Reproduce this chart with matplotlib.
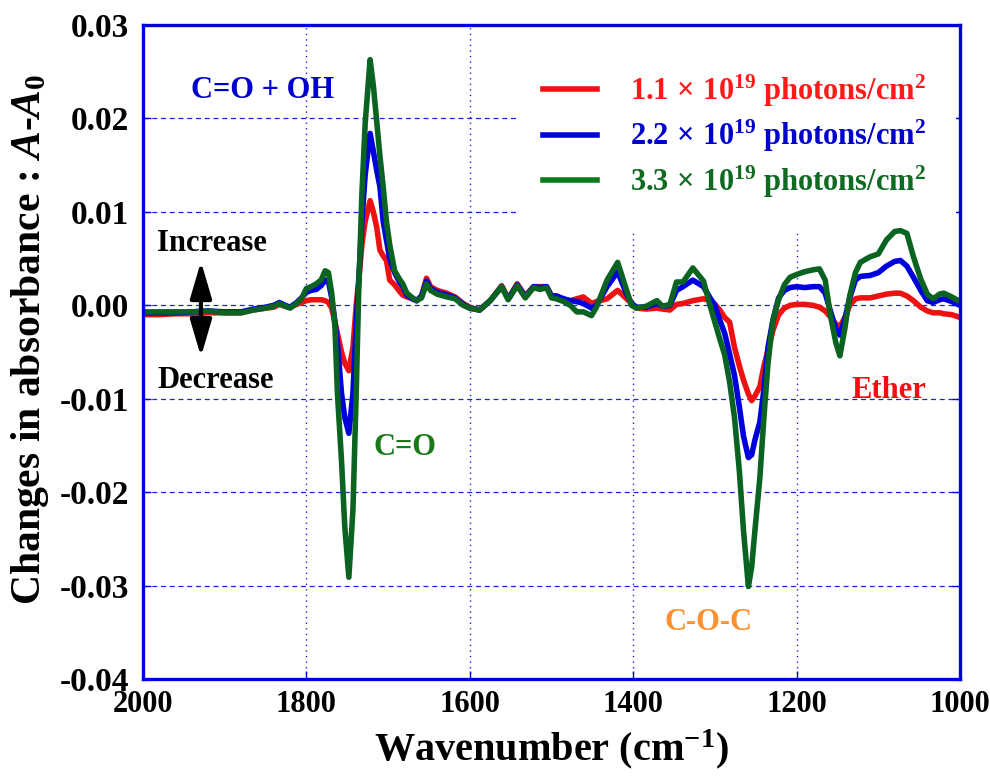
import numpy as np
import matplotlib
matplotlib.use('Agg')
import matplotlib.pyplot as plt
from matplotlib.patches import Rectangle

plt.rcParams['font.family'] = ['Liberation Serif', 'DejaVu Serif']
plt.rcParams['font.weight'] = 'bold'
plt.rcParams['axes.labelweight'] = 'bold'
plt.rcParams['axes.unicode_minus'] = False
plt.rcParams['mathtext.fontset'] = 'custom'
plt.rcParams['mathtext.rm'] = 'Liberation Serif:bold'
plt.rcParams['mathtext.bf'] = 'Liberation Serif:bold'
plt.rcParams['mathtext.it'] = 'Liberation Serif:bold:italic'

# wavenumber (cm-1), values in units of 1e-3 absorbance
wavenumber = [2000, 1980, 1960, 1940, 1920, 1900, 1880, 1865, 1850, 1840, 1833, 1826,
              1820, 1812, 1806, 1800, 1794, 1788, 1782, 1777, 1773, 1769, 1765, 1762,
              1757, 1753, 1748, 1743, 1739, 1736, 1732, 1728, 1722, 1718, 1714, 1710,
              1706, 1702, 1698, 1692, 1686, 1682, 1677, 1670, 1665, 1659, 1653, 1648,
              1640, 1628, 1618, 1608, 1600, 1588, 1575, 1561, 1553, 1542, 1532, 1522,
              1514, 1506, 1500, 1494, 1485, 1477, 1469, 1461, 1451, 1445, 1432, 1419,
              1408, 1402, 1396, 1384, 1371, 1364, 1355, 1347, 1339, 1327, 1314, 1306,
              1300, 1294, 1288, 1282, 1276, 1270, 1265, 1259, 1255, 1251, 1245, 1240,
              1235, 1229, 1222, 1215, 1208, 1200, 1190, 1180, 1172, 1165, 1159, 1152,
              1147, 1141, 1135, 1128, 1122, 1110, 1100, 1090, 1080, 1073, 1065, 1057,
              1048, 1040, 1033, 1025, 1020, 1010, 1000]

dose_11 = [-1.0, -1.0, -0.9, -0.9, -0.8, -0.8, -0.8, -0.5, -0.3, -0.2, 0.1, -0.1,
           -0.2, 0.1, 0.3, 0.5, 0.6, 0.6, 0.6, 0.5, 0.3, -0.3, -1.8, -3.0,
           -5.0, -6.2, -7.0, -4.5, 0.0, 2.5, 6.5, 9.0, 11.2, 10.0, 8.4, 5.9,
           5.3, 4.8, 2.7, 2.2, 1.5, 1.1, 0.9, 0.7, 0.5, 1.0, 2.9, 2.0,
           1.6, 1.3, 0.9, 0.2, -0.2, -0.5, 0.5, 2.1, 0.7, 2.3, 1.0, 2.0,
           2.0, 2.0, 1.0, 1.0, 0.6, 0.5, 0.7, 0.9, 0.2, 0.4, 0.7, 1.6,
           0.7, 0.2, -0.3, -0.4, -0.3, -0.4, -0.5, 0.1, 0.2, 0.5, 0.7, 0.5,
           0.1, -0.5, -1.3, -1.8, -4.5, -6.5, -8.0, -9.5, -10.2, -9.7, -8.7, -6.5,
           -4.8, -2.7, -1.0, -0.3, 0.0, 0.1, 0.1, 0.0, -0.2, -0.6, -1.2, -2.0,
           -2.3, -1.3, 0.0, 0.7, 0.8, 0.8, 1.0, 1.2, 1.3, 1.3, 1.0, 0.5,
           -0.2, -0.6, -0.8, -0.8, -0.9, -1.0, -1.3]

dose_22 = [-0.8, -0.8, -0.8, -0.7, -0.6, -0.7, -0.7, -0.4, -0.2, 0.0, 0.3, 0.0,
           -0.2, 0.3, 0.8, 1.4, 1.6, 1.7, 2.1, 2.7, 2.6, 0.8, -1.8, -4.0,
           -9.4, -12.0, -13.7, -9.4, -2.0, 2.5, 9.0, 14.0, 18.4, 16.5, 14.5, 12.7,
           9.0, 7.0, 5.0, 3.5, 2.5, 2.0, 1.1, 0.7, 0.5, 1.0, 2.6, 1.8,
           1.4, 1.1, 0.8, 0.1, -0.3, -0.5, 0.5, 2.0, 0.7, 2.2, 0.9, 2.0,
           1.9, 2.0, 1.0, 1.0, 0.7, 0.5, 0.4, 0.2, -0.3, 0.0, 2.0, 3.6,
           1.2, 0.2, -0.2, -0.2, 0.2, -0.1, 0.0, 1.6, 2.0, 2.7, 2.0, 0.8,
           0.0, -1.6, -3.0, -5.2, -7.5, -10.9, -14.0, -16.3, -16.0, -14.4, -12.5, -9.0,
           -4.5, -1.6, 0.8, 1.6, 1.9, 2.0, 1.9, 2.0, 2.0, 1.3, -0.5, -2.5,
           -3.2, -1.5, 0.8, 2.7, 3.1, 3.2, 3.5, 4.2, 4.7, 4.8, 4.2, 3.0,
           1.6, 0.5, 0.3, 0.6, 0.7, 0.4, 0.0]

dose_33 = [-0.7, -0.7, -0.7, -0.7, -0.6, -0.8, -0.8, -0.5, -0.3, -0.1, 0.2, -0.1,
           -0.3, 0.2, 0.7, 1.8, 2.0, 2.3, 2.7, 3.7, 3.5, 1.3, -2.3, -9.4,
           -16.6, -23.7, -29.1, -21.9, -9.4, 1.3, 12.0, 19.5, 26.3, 23.5, 19.8, 16.0,
           12.7, 9.0, 6.5, 3.7, 2.8, 2.3, 1.3, 0.8, 0.5, 0.8, 2.3, 1.6,
           1.2, 0.9, 0.7, 0.0, -0.3, -0.5, 0.5, 2.0, 0.6, 2.1, 0.8, 1.9,
           1.7, 1.9, 0.8, 0.7, 0.4, 0.0, -0.7, -0.7, -1.1, -0.2, 2.7, 4.6,
           1.6, 0.0, -0.3, -0.1, 0.5, -0.1, 0.1, 2.5, 2.5, 4.0, 2.6, 0.0,
           -1.8, -3.6, -5.3, -8.2, -12.0, -17.8, -24.1, -30.1, -28.0, -24.1, -18.5, -12.0,
           -6.2, -1.6, 0.6, 2.2, 3.0, 3.3, 3.6, 3.8, 3.9, 2.7, -0.9, -4.0,
           -5.4, -2.5, 1.0, 3.5, 4.6, 5.2, 5.5, 7.0, 7.9, 8.0, 7.7, 5.2,
           2.8, 1.2, 0.7, 1.2, 1.3, 0.9, 0.4]

labels = [r'1.1$\,\times\,$10$^{19}$ photons/cm$^{2}$',
          r'2.2$\,\times\,$10$^{19}$ photons/cm$^{2}$',
          r'3.3$\,\times\,$10$^{19}$ photons/cm$^{2}$']
line_colors = ['#ee1111', '#0000dd', '#0b6322']
handle_colors = ['#ee1111', '#0000dd', '#0a7a1a']
text_colors = ['#ff1a1a', '#0000cc', '#0f6b22']

x_ticks = [2000, 1800, 1600, 1400, 1200, 1000]
y_ticks = [-0.04, -0.03, -0.02, -0.01, 0.00, 0.01, 0.02, 0.03]

frame_blue = '#0000dd'

fig = plt.figure(figsize=(9.9, 7.78), dpi=100)
ax = fig.add_axes([0.1444, 0.1272, 0.8253, 0.8406])

wn = np.array(wavenumber)
for vals, col, lab in zip([dose_11, dose_22, dose_33], line_colors, labels):
    ax.plot(wn, np.array(vals) * 1e-3, color=col, lw=4.0, label=lab,
            solid_joinstyle='round', zorder=3)

ax.set_xlim(2000, 1000)
ax.set_ylim(-0.04, 0.03)
ax.set_xticks(x_ticks)
ax.set_yticks(y_ticks)
ax.set_yticklabels([f'{v:.2f}' for v in y_ticks])

# grid: dashed horizontal, dotted vertical
for v in y_ticks[1:-1]:
    ax.axhline(v, color='#2222dd', lw=0.9, ls=(0, (4, 3)), zorder=1)
for v in x_ticks[1:-1]:
    ax.axvline(v, color='#2222dd', lw=1.0, ls=(0, (1, 3)), zorder=1)

# white area behind the legend
ax.add_patch(Rectangle((0.458, 0.683), 0.537, 0.317, transform=ax.transAxes,
                       facecolor='white', edgecolor='none', zorder=2))

for sp in ax.spines.values():
    sp.set_color(frame_blue)
    sp.set_linewidth(2.4)
    sp.set_zorder(5)

ax.tick_params(direction='in', length=6, color=frame_blue, width=1,
               right=True, top=False)
ax.tick_params(axis='y', pad=10, labelsize=24)
ax.tick_params(axis='x', pad=8, labelsize=22)

ax.set_xlabel(r'Wavenumber (cm$^{-1}$)', fontsize=29)
ax.set_ylabel(r'Changes in absorbance : $A$-$A_{\mathit{0}}$', fontsize=30)
ax.xaxis.set_label_coords(0.5, -0.074)
ax.yaxis.set_label_coords(-0.112, 0.52)

leg = ax.legend(loc='upper left', bbox_to_anchor=(0.490, 0.927), frameon=False,
                fontsize=22, handlelength=1.75, handletextpad=1.1,
                labelspacing=0.3, borderpad=0, borderaxespad=0)
for txt, col in zip(leg.get_texts(), text_colors):
    txt.set_color(col)
for h, col in zip(leg.get_lines(), handle_colors):
    h.set_linewidth(4)
    h.set_color(col)

# annotations
ax.text(1853, 0.0230, 'C=O + OH', color='#0000cc', fontsize=22, ha='center', va='center')
ax.text(1915, 0.0066, 'Increase', color='black', fontsize=22, ha='center', va='center')
ax.text(1911, -0.0080, 'Decrease', color='black', fontsize=22, ha='center', va='center')
ax.text(1679, -0.0152, 'C=O', color='#1a7a1a', fontsize=22, ha='center', va='center')
ax.text(1308, -0.0339, 'C-O-C', color='#ff9030', fontsize=22, ha='center', va='center')
ax.text(1087, -0.0091, 'Ether', color='#ee1111', fontsize=22, ha='center', va='center')
ax.annotate('', xy=(1929, 0.0047), xytext=(1929, -0.0055),
            arrowprops=dict(arrowstyle='<|-|>,head_length=0.75,head_width=0.22',
                            color='black', lw=3, mutation_scale=30,
                            shrinkA=0, shrinkB=0))

fig.savefig('out.png', dpi=100)
